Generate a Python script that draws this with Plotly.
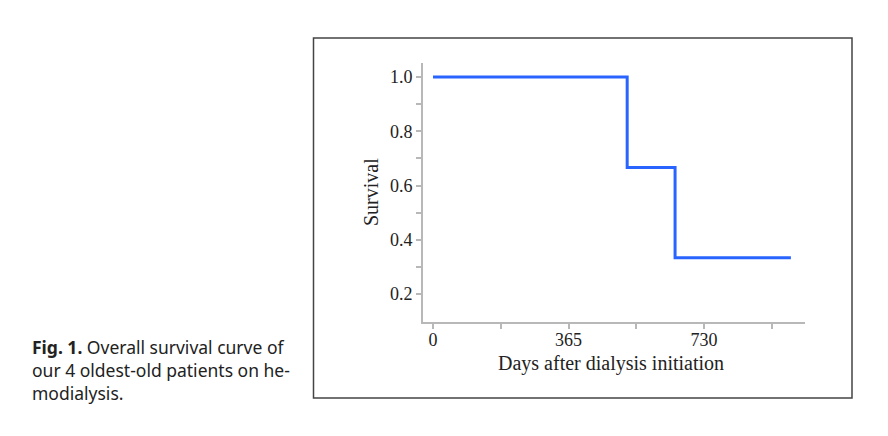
import plotly.graph_objects as go

# Data
days = [0, 523, 652, 964]
survival = [1.0, 0.6667, 0.3333, 0.3333]
x_tick_vals = [0, 365, 730]
x_tick_text = ["0", "365", "730"]
y_tick_vals = [0.2, 0.4, 0.6, 0.8, 1.0]
y_tick_text = ["0.2", "0.4", "0.6", "0.8", "1.0"]
caption_lines = [
    "<b>Fig. 1.</b> Overall survival curve of",
    "our 4 oldest-old patients on he-",
    "modialysis.",
]

W, H = 888, 436
serif = "Liberation Serif, Times New Roman, serif"

fig = go.Figure()
fig.add_trace(go.Scatter(
    x=days, y=survival, mode="lines", line=dict(color="#2a64ff", width=3, shape="hv"),
    showlegend=False, hoverinfo="skip"))

axis_color = "#b8b8b8"
fig.update_layout(
    width=W, height=H, margin=dict(l=0, r=0, t=0, b=0),
    paper_bgcolor="white", plot_bgcolor="white",
    xaxis=dict(domain=[423 / W, 805 / W], range=[-27, 1002],
               tickvals=x_tick_vals, ticktext=x_tick_text,
               ticks="outside", ticklen=5, tickcolor=axis_color, tickwidth=1.5,
               ticklabelstandoff=-5,
               showline=True, linecolor=axis_color, linewidth=2,
               showgrid=False, zeroline=False,
               tickfont=dict(family=serif, size=18, color="#222"),
               minor=dict(tickvals=[182.5, 547.5, 912.5], ticks="outside", ticklen=5,
                          tickcolor=axis_color, tickwidth=1.5, showgrid=False)),
    yaxis=dict(domain=[(H - 322) / H, (H - 63) / H], range=[0.0968, 1.0516],
               tickvals=y_tick_vals, ticktext=y_tick_text,
               ticks="outside", ticklen=5, tickcolor=axis_color, tickwidth=1.5,
               showline=True, linecolor=axis_color, linewidth=2,
               showgrid=False, zeroline=False,
               tickfont=dict(family=serif, size=18, color="#222"),
               minor=dict(tickvals=[0.3, 0.5, 0.7, 0.9], ticks="outside", ticklen=5,
                          tickcolor=axis_color, tickwidth=1.5, showgrid=False)),
)

# Frame around the figure panel
fig.add_shape(type="rect", xref="paper", yref="paper",
              x0=313.5 / W, x1=852 / W, y0=(H - 398) / H, y1=(H - 38) / H,
              line=dict(color="#444", width=1.5), fillcolor="rgba(0,0,0,0)", layer="below")

# Axis titles
fig.add_annotation(xref="paper", yref="paper", x=611 / W, y=(H - 363) / H,
                   text="Days after dialysis initiation", showarrow=False,
                   font=dict(family=serif, size=20, color="#222"),
                   xanchor="center", yanchor="middle")
fig.add_annotation(xref="paper", yref="paper", x=371 / W, y=(H - 192) / H,
                   text="Survival", showarrow=False, textangle=-90,
                   font=dict(family=serif, size=20, color="#222"),
                   xanchor="center", yanchor="middle")

# Caption
cap_y = [347, 370, 393]
for line, yy in zip(caption_lines, cap_y):
    fig.add_annotation(xref="paper", yref="paper", x=30 / W, y=(H - yy) / H,
                       text=line, showarrow=False,
                       font=dict(family="Noto Sans, sans-serif", size=17.5, color="#222"),
                       xanchor="left", yanchor="middle")

fig.write_html("out.html")
